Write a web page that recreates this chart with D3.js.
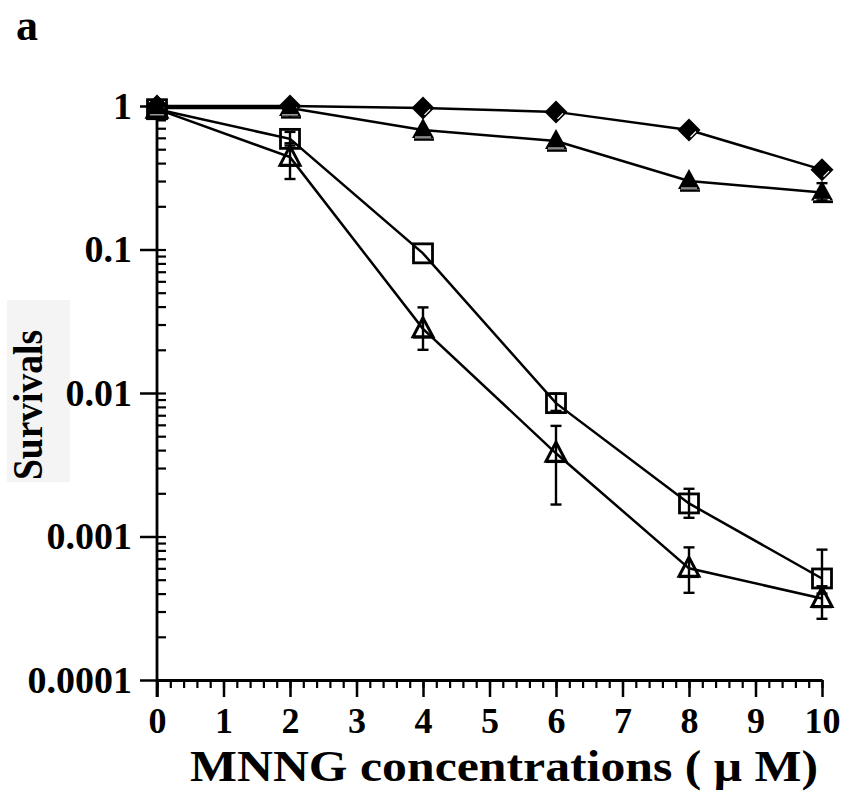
<!DOCTYPE html>
<html>
<head>
<meta charset="utf-8">
<script src="https://cdn.jsdelivr.net/npm/d3@7"></script>
<style>
  body { margin: 0; background: #fff; }
  text { font-family: "Liberation Serif", "Times New Roman", serif; font-weight: bold; }
</style>
</head>
<body>
<svg id="chart" width="854" height="791"></svg>
<script>
// doses (uM) and survival fractions
var dose = [0, 2, 4, 6, 8, 10];
var diamondVals = [1, 1, 0.97, 0.91, 0.68, 0.36];
var triFilledVals = [0.97, 0.97, 0.68, 0.57, 0.30, 0.25];
var squareVals = [0.95, 0.59, 0.094, 0.0085, 0.0017, 0.00051];
var triOpenVals = [0.95, 0.44, 0.028, 0.0038, 0.0006, 0.00037];

// error bars (low / high), null = none
var squareLo = [null, 0.53, null, 0.0075, 0.00135, 0.0004];
var squareHi = [null, 0.66, null, 0.0099, 0.00215, 0.00081];
var triOpenLo = [null, 0.31, 0.020, 0.00167, 0.000405, 0.000267];
var triOpenHi = [null, 0.55, 0.0395, 0.0059, 0.00084, 0.00045];
var triFilledLo = [null, null, null, null, null, 0.22];
var triFilledHi = [null, null, null, null, null, 0.29];

var xTicks = [0, 1, 2, 3, 4, 5, 6, 7, 8, 9, 10];
var yTicks = [1, 0.1, 0.01, 0.001, 0.0001];
var yTickLabels = ['1', '0.1', '0.01', '0.001', '0.0001'];

var svg = d3.select('#chart');

var x = d3.scaleLinear().domain([0, 10]).range([157, 822]);
var y = d3.scaleLog().domain([0.0001, 1]).range([680, 106]);

// label "a"
svg.append('text').attr('x', 16).attr('y', 40).style('font-size', '44px').text('a');

// y title with its grey box
svg.append('rect').attr('x', 7).attr('y', 300).attr('width', 63).attr('height', 182)
   .attr('fill', '#f4f4f4');
svg.append('text')
   .attr('transform', 'translate(42,405) rotate(-90)')
   .attr('text-anchor', 'middle')
   .attr('textLength', 150).attr('lengthAdjust', 'spacingAndGlyphs')
   .style('font-size', '42px')
   .text('Survivals');

// x axis
var xMinor = d3.range(0, 10.01, 0.2);
svg.append('g').attr('transform', 'translate(0,680)')
   .call(d3.axisBottom(x).tickValues(xMinor).tickSize(8).tickSizeOuter(0).tickFormat(''))
   .call(function(g) { g.select('.domain').remove(); g.selectAll('line').attr('stroke-width', 2.2); });

var xAxis = svg.append('g').attr('transform', 'translate(0,680)')
   .call(d3.axisBottom(x).tickValues(xTicks).tickSize(17).tickSizeOuter(0).tickPadding(10)
         .tickFormat(d3.format('d')));
xAxis.selectAll('line').attr('stroke-width', 2.5);
xAxis.select('.domain').attr('stroke-width', 2.8);
xAxis.selectAll('text').style('font-size', '36px').attr('fill', '#000')
     .style('font-family', '"Liberation Serif", serif');

// y axis
var yMinor = [];
[0.0001, 0.001, 0.01, 0.1].forEach(function(b) {
  for (var k = 2; k <= 9; k++) yMinor.push(b * k);
});
svg.append('g').attr('transform', 'translate(157,0)')
   .call(d3.axisRight(y).tickValues(yMinor.concat(yTicks)).tickSize(9).tickSizeOuter(0).tickFormat(''))
   .call(function(g) { g.select('.domain').remove(); g.selectAll('line').attr('stroke-width', 2.2); });

var yAxis = svg.append('g').attr('transform', 'translate(157,0)')
   .call(d3.axisLeft(y).tickValues(yTicks).tickSize(17).tickSizeOuter(0).tickPadding(8)
         .tickFormat(function(d, i) { return yTickLabels[i]; }));
yAxis.select('.domain').remove();
yAxis.selectAll('line').attr('stroke-width', 2.5);
yAxis.selectAll('text').style('font-size', '38px').attr('fill', '#000')
     .style('font-family', '"Liberation Serif", serif');

svg.append('line')
   .attr('x1', x(0)).attr('x2', x(0))
   .attr('y1', y(1) - 2).attr('y2', y(0.0001) + 17)
   .attr('stroke', '#000').attr('stroke-width', 2.8);

// x title
svg.append('text').attr('x', 504).attr('y', 781).attr('text-anchor', 'middle')
   .attr('textLength', 628).attr('lengthAdjust', 'spacingAndGlyphs')
   .style('font-size', '45px').text('MNNG concentrations ( \u03bc M)');

// series
var series = [
  { vals: diamondVals, shape: 'diamond', lo: null, hi: null },
  { vals: triFilledVals, shape: 'triFilled', lo: triFilledLo, hi: triFilledHi },
  { vals: squareVals, shape: 'square', lo: squareLo, hi: squareHi },
  { vals: triOpenVals, shape: 'triOpen', lo: triOpenLo, hi: triOpenHi }
];

var line = d3.line()
  .x(function(d) { return x(d[0]); })
  .y(function(d) { return y(d[1]); });

series.forEach(function(s) {
  svg.append('path')
     .datum(d3.zip(dose, s.vals))
     .attr('d', line)
     .attr('fill', 'none').attr('stroke', '#000').attr('stroke-width', 2.5);
});

function drawMarker(g, shape, cx, cy) {
  if (shape === 'diamond') {
    g.append('path')
     .attr('d', 'M' + cx + ',' + (cy - 11.5) + 'L' + (cx + 11.5) + ',' + cy + 'L' + cx + ',' + (cy + 11.5) + 'L' + (cx - 11.5) + ',' + cy + 'Z')
     .attr('fill', '#000');
    g.append('line')
     .attr('x1', cx + 7).attr('y1', cy + 1.5).attr('x2', cx + 1.5).attr('y2', cy + 7)
     .attr('stroke', '#fff').attr('stroke-width', 1.2);
  } else if (shape === 'triFilled') {
    g.append('path')
     .attr('d', 'M' + cx + ',' + (cy - 12) + 'L' + (cx + 11) + ',' + (cy + 8) + 'L' + (cx - 11) + ',' + (cy + 8) + 'Z')
     .attr('fill', '#000');
    g.append('line')
     .attr('x1', cx - 8).attr('x2', cx + 8).attr('y1', cy + 7).attr('y2', cy + 7)
     .attr('stroke', '#fff').attr('stroke-width', 1);
    g.append('line')
     .attr('x1', cx - 9).attr('x2', cx + 11).attr('y1', cy + 9.5).attr('y2', cy + 9.5)
     .attr('stroke', '#000').attr('stroke-width', 2.5);
  } else if (shape === 'square') {
    g.append('rect')
     .attr('x', cx - 9.5).attr('y', cy - 9.5).attr('width', 19).attr('height', 19)
     .attr('fill', 'none').attr('stroke', '#000').attr('stroke-width', 2.8);
  } else {
    g.append('path')
     .attr('d', 'M' + cx + ',' + (cy - 11) + 'L' + (cx + 10) + ',' + (cy + 8) + 'L' + (cx - 10) + ',' + (cy + 8) + 'Z')
     .attr('fill', 'none').attr('stroke', '#000').attr('stroke-width', 3)
     .attr('stroke-linejoin', 'miter');
    g.append('line')
     .attr('x1', cx - 10).attr('x2', cx + 10).attr('y1', cy + 9).attr('y2', cy + 9)
     .attr('stroke', '#000').attr('stroke-width', 1.5);
  }
}

series.forEach(function(s) {
  var g = svg.append('g');
  dose.forEach(function(d, i) {
    drawMarker(g, s.shape, x(d), y(s.vals[i]));
  });
  if (s.lo) {
    dose.forEach(function(d, i) {
      if (s.lo[i] == null) return;
      var xx = x(d), y1 = y(s.hi[i]), y2 = y(s.lo[i]);
      g.append('line').attr('x1', xx).attr('x2', xx).attr('y1', y1).attr('y2', y2)
       .attr('stroke', '#000').attr('stroke-width', 2.4);
      [y1, y2].forEach(function(yy) {
        g.append('line').attr('x1', xx - 5.5).attr('x2', xx + 5.5).attr('y1', yy).attr('y2', yy)
         .attr('stroke', '#000').attr('stroke-width', 2.4);
      });
    });
  }
});
</script>
</body>
</html>
